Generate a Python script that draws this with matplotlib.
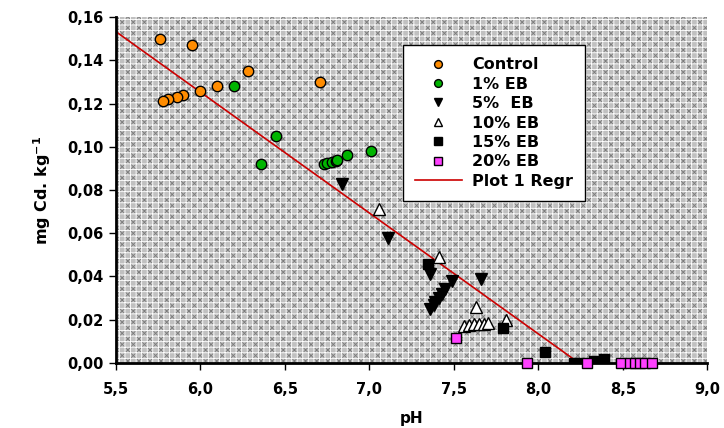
import matplotlib
matplotlib.use("Agg")
import matplotlib.pyplot as plt
from matplotlib.patches import Rectangle

plt.rcParams['font.family'] = ['DejaVu Sans']
plt.rcParams['font.weight'] = 'bold'
plt.rcParams['mathtext.default'] = 'bf'
plt.rcParams['hatch.linewidth'] = 0.6

# datos
control_ph = [5.76, 5.95, 6.28, 6.71, 6.10, 6.00, 5.90, 5.86, 5.81, 5.78]
control_cd = [0.150, 0.147, 0.135, 0.130, 0.128, 0.126, 0.124, 0.123, 0.122, 0.121]

eb1_ph = [6.20, 6.45, 6.36, 6.87, 6.73, 6.75, 6.78, 6.80, 6.81, 7.01]
eb1_cd = [0.128, 0.105, 0.092, 0.096, 0.092, 0.0925, 0.093, 0.0935, 0.094, 0.098]

eb5_ph = [6.84, 7.11, 7.36, 7.66, 7.49, 7.45, 7.43, 7.41, 7.39, 7.38, 7.36]
eb5_cd = [0.083, 0.058, 0.041, 0.039, 0.038, 0.034, 0.032, 0.030, 0.028, 0.027, 0.025]

eb10_ph = [7.06, 7.41, 7.63, 7.56, 7.59, 7.62, 7.65, 7.68, 7.70, 7.81]
eb10_cd = [0.071, 0.049, 0.026, 0.017, 0.0175, 0.018, 0.018, 0.018, 0.0185, 0.020]

eb15_ph = [7.35, 7.79, 8.04, 8.21, 8.24, 8.33, 8.39]
eb15_cd = [0.046, 0.016, 0.005, 0.0, 0.0, 0.001, 0.002]

eb20_ph = [7.51, 7.93, 8.29, 8.49, 8.54, 8.57, 8.60, 8.63, 8.67]
eb20_cd = [0.0115, 0.0, 0.0, 0.0, 0.0, 0.0, 0.0, 0.0, 0.0]

regr_ph = [5.5, 8.24]
regr_cd = [0.1533, 0.0]

xticks = [5.5, 6.0, 6.5, 7.0, 7.5, 8.0, 8.5, 9.0]
xlabels = ['5,5', '6,0', '6,5', '7,0', '7,5', '8,0', '8,5', '9,0']
yticks = [0.0, 0.02, 0.04, 0.06, 0.08, 0.10, 0.12, 0.14, 0.16]
ylabels = ['0,00', '0,02', '0,04', '0,06', '0,08', '0,10', '0,12', '0,14', '0,16']

fig = plt.figure(figsize=(7.24, 4.28), dpi=100)
ax = fig.add_axes([0.160, 0.152, 0.817, 0.808])

# fondo tramado
ax.set_facecolor('#c0c0c0')
ax.add_patch(Rectangle((0, 0), 1, 1, transform=ax.transAxes, facecolor='none',
                       edgecolor='#7a7a7a', hatch='xxx', lw=0, zorder=0.1))
ax.add_patch(Rectangle((0, 0), 1, 1, transform=ax.transAxes, facecolor='none',
                       edgecolor='white', hatch='+++', lw=0, zorder=0.2))

ax.plot(regr_ph, regr_cd, color='#cc0000', lw=1.2, zorder=2, label='Plot 1 Regr')

ms = 7.5
ax.plot(control_ph, control_cd, 'o', color='#ff8c00', mec='black', mew=1, ms=ms, label='Control', zorder=3)
ax.plot(eb1_ph, eb1_cd, 'o', color='#00b400', mec='black', mew=1, ms=ms, label='1% EB', zorder=3)
ax.plot(eb5_ph, eb5_cd, 'v', color='black', mec='black', ms=ms + 0.5, label='5%  EB', zorder=3)
ax.plot(eb10_ph, eb10_cd, '^', color='white', mec='black', mew=1, ms=ms + 0.5, label='10% EB', zorder=3)
ax.plot(eb15_ph, eb15_cd, 's', color='black', mec='black', ms=ms - 0.5, label='15% EB', zorder=3)
ax.plot(eb20_ph, eb20_cd, 's', color='#ff40ff', mec='black', mew=1, ms=ms - 0.5, label='20% EB', zorder=4, clip_on=False)

ax.set_xlim(5.5, 9.0)
ax.set_ylim(0, 0.16)
ax.set_xticks(xticks)
ax.set_xticklabels(xlabels)
ax.set_yticks(yticks)
ax.set_yticklabels(ylabels)
ax.tick_params(axis='both', direction='out', length=5, width=1, labelsize=10.5)
ax.tick_params(axis='x', pad=9)
ax.tick_params(axis='y', pad=4)

for s in ['top', 'right']:
    ax.spines[s].set_visible(False)
ax.spines['left'].set_linewidth(2)
ax.spines['bottom'].set_linewidth(2)

ax.set_xlabel('pH', fontsize=11, fontweight='bold', labelpad=10)
ax.set_ylabel('mg Cd. kg$^{-1}$', fontsize=11.5, fontweight='bold', labelpad=10)

handles, labels = ax.get_legend_handles_labels()
orden = [1, 2, 3, 4, 5, 6, 0]
leg = ax.legend([handles[i] for i in orden], [labels[i] for i in orden],
                loc='upper left', bbox_to_anchor=(0.486, 0.919), borderaxespad=0,
                fancybox=False, framealpha=1, edgecolor='black', fontsize=11.5,
                markerscale=0.75, handlelength=2.9, handletextpad=0.65,
                labelspacing=0.28, borderpad=0.75)
leg.get_frame().set_linewidth(1.0)

fig.savefig('out.png', dpi=100)
